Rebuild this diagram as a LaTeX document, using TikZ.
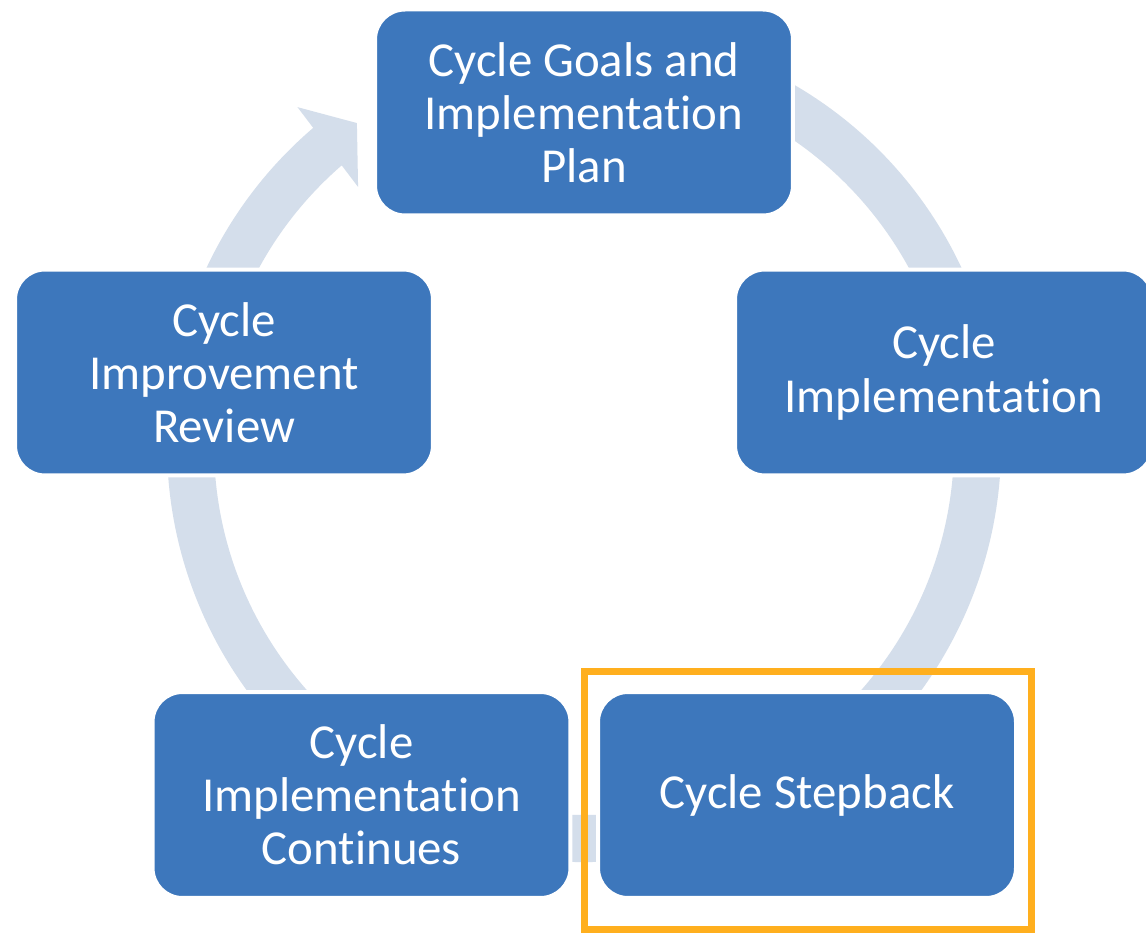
\documentclass[tikz,border=0pt]{standalone}
\usepackage{fontspec}
\setmainfont{Carlito}[Ligatures={NoCommon}]
\usepackage{xcolor}
\usepackage{tikz}

\definecolor{stageblue}{RGB}{61,119,188}
\definecolor{ringgray}{RGB}{212,222,235}
\definecolor{markorange}{RGB}{255,175,30}

\begin{document}
\begin{tikzpicture}[scale=0.1]
\tikzstyle{every node}+=[inner sep=0pt]
\tikzstyle{stage}=[rectangle, rounded corners=3mm, fill=stageblue, draw=white, line width=0.4mm, minimum width=41.8mm, minimum height=20.6mm, text=white, align=center, font=\fontsize{13.9}{15.1}\selectfont]
\fill [white] (0,0) rectangle (114.6,-93.4);
\useasboundingbox (0,0) rectangle (114.6,-93.4);
\begin{scope}[shift={(58.4,-44.5)}]
\fill [ringgray] (65:41.7) arc [start angle=65, end angle=-230, radius=41.7] -- (-230:37) arc [start angle=-230, end angle=65, radius=37] -- cycle;
\fill [ringgray] (130.3:44.3) -- (125.2:39.4) -- (131.2:34.3) -- cycle;
\end{scope}
\node [stage] (goals) at (58.4,-11.25) {Cycle Goals and\\Implementation\\Plan};
\node [stage] (impl) at (94.4,-37.25) {Cycle\\Implementation};
\node [stage] (stepback) at (80.7,-79.5) {Cycle Stepback};
\node [stage] (continues) at (36.15,-79.5) {Cycle\\Implementation\\Continues};
\node [stage] (review) at (22.4,-37.25) {Cycle\\Improvement\\Review};
\draw [markorange, line width=0.7mm] (58.4,-67.1) rectangle (103.1,-92.9);
\end{tikzpicture}
\end{document}
